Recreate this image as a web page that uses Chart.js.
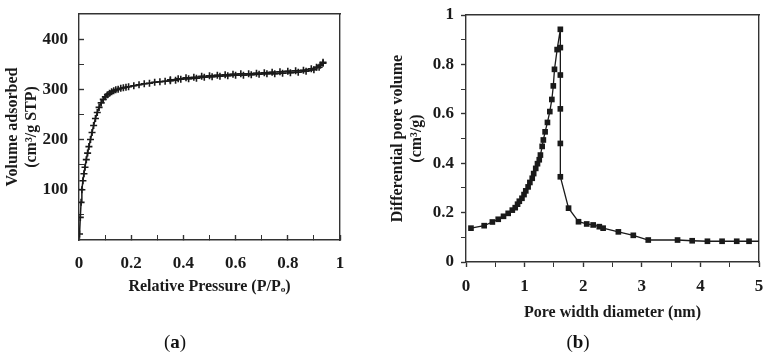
<!DOCTYPE html>
<html>
<head>
<meta charset="utf-8">
<script src="https://cdn.jsdelivr.net/npm/chart.js@4"></script>
<style>
  body { margin: 0; background: #fff; }
  #wrap { position: relative; width: 770px; height: 358px; overflow: hidden; }
  canvas { position: absolute; top: 0; }
  #chartA { left: 0; }
  #chartB { left: 385px; }
  .tag { position: absolute; top: 342px; transform: translate(-50%, -50%);
         font-family: 'Liberation Serif', serif; font-size: 19px; color: #111; }
</style>
</head>
<body>
<div id="wrap">
  <canvas id="chartA" width="385" height="358"></canvas>
  <canvas id="chartB" width="385" height="358"></canvas>
  <div class="tag" style="left:175px">(<b>a</b>)</div>
  <div class="tag" style="left:578px">(<b>b</b>)</div>
</div>
<script>
// (a) nitrogen isotherm
const pressureAds = [0.002, 0.005, 0.008, 0.011, 0.015, 0.019, 0.023, 0.028, 0.033, 0.038, 0.044, 0.050,
  0.056, 0.063, 0.070, 0.077, 0.085, 0.093, 0.101, 0.109, 0.117, 0.125, 0.133, 0.141, 0.150, 0.160,
  0.170, 0.180, 0.190, 0.21, 0.23, 0.25, 0.27, 0.29, 0.31, 0.33, 0.35, 0.37, 0.39, 0.42, 0.45, 0.48,
  0.51, 0.54, 0.57, 0.60, 0.63, 0.66, 0.69, 0.72, 0.75, 0.78, 0.81, 0.84, 0.87, 0.90, 0.92, 0.935];
const volumeAds = [12, 45, 75, 100, 118, 132, 145, 160, 173, 186, 200, 214,
  228, 242, 254, 264, 273, 280, 285, 289, 292, 295, 297, 299, 300, 302,
  303, 304, 305, 307, 309, 311, 312, 314, 315, 316, 317, 318, 320, 321, 322, 324,
  325, 326, 327, 328, 328, 329, 330, 331, 331, 332, 333, 334, 336, 339, 344, 352];
const pressureDes = [0.935, 0.925, 0.91, 0.89, 0.86, 0.83, 0.80, 0.77, 0.74, 0.71, 0.68, 0.65,
  0.62, 0.59, 0.56, 0.53, 0.50, 0.47, 0.44, 0.41, 0.38, 0.35];
const volumeDes = [354, 348, 344, 341, 338, 337, 336, 335, 334, 333, 332, 331,
  331, 330, 329, 328, 327, 326, 324, 323, 321, 319];
const pressureTicks = [0, 0.1, 0.2, 0.3, 0.4, 0.5, 0.6, 0.7, 0.8, 0.9, 1];
const pressureLabels = ['0', '', '0.2', '', '0.4', '', '0.6', '', '0.8', '', '1'];
const volumeTicks = [50, 100, 150, 200, 250, 300, 350, 400];
const volumeLabels = ['', '100', '', '200', '', '300', '', '400'];

// (b) pore size distribution
const poreWidth = [0.085, 0.31, 0.45, 0.55, 0.64, 0.72, 0.79, 0.84, 0.88, 0.91, 0.955, 0.99, 1.02,
  1.06, 1.09, 1.13, 1.155, 1.19, 1.22, 1.25, 1.27, 1.30, 1.32, 1.35, 1.39, 1.43, 1.465, 1.49, 1.51,
  1.555, 1.61, 1.61, 1.61, 1.61, 1.61, 1.61, 1.75, 1.92, 2.06, 2.17, 2.275, 2.34, 2.60, 2.855,
  3.11, 3.61, 3.86, 4.12, 4.37, 4.62, 4.83, 5.1];
const poreVolume = [0.137, 0.147, 0.162, 0.173, 0.185, 0.197, 0.21, 0.22, 0.234, 0.246, 0.258, 0.273, 0.288,
  0.304, 0.322, 0.339, 0.358, 0.379, 0.398, 0.414, 0.433, 0.468, 0.494, 0.527, 0.565, 0.609, 0.658, 0.713, 0.78,
  0.86, 0.942, 0.868, 0.757, 0.62, 0.48, 0.345, 0.218, 0.163, 0.154, 0.15, 0.143, 0.137, 0.122, 0.108,
  0.089, 0.089, 0.086, 0.084, 0.084, 0.084, 0.084, 0.084];
const widthTicks = [0, 0.5, 1, 1.5, 2, 2.5, 3, 3.5, 4, 4.5, 5];
const widthLabels = ['0', '', '1', '', '2', '', '3', '', '4', '', '5'];
const dvTicks = [0, 0.1, 0.2, 0.3, 0.4, 0.5, 0.6, 0.7, 0.8, 0.9, 1];
const dvLabels = ['0', '', '0.2', '', '0.4', '', '0.6', '', '0.8', '', '1'];

const serif = "'Liberation Serif', 'Times New Roman', serif";
const ink = '#1a1a1a';
const frameColor = '#333';

const tickFont = { family: serif, size: 17, weight: 'bold' };
const titleFont = { family: serif, size: 16, weight: 'bold' };

function pts(xs, ys) {
    return xs.map((x, i) => ({ x: x, y: ys[i] }));
}

// bottom / left axis with fixed tick positions; tick marks in or out
function axis(horizontal, min, max, values, labels, size, tickLen, pad, title) {
    return {
        type: 'linear',
        position: horizontal ? 'bottom' : 'left',
        min: min,
        max: max,
        afterBuildTicks: s => { s.ticks = values.map(v => ({ value: v })); },
        afterFit: s => {
            if (horizontal) { s.height = size; s.paddingLeft = 0; s.paddingRight = 0; }
            else { s.width = size; s.paddingTop = 0; s.paddingBottom = 0; }
        },
        grid: {
            display: true,
            drawOnChartArea: false,
            drawTicks: true,
            tickLength: tickLen,
            tickColor: frameColor,
            tickWidth: ctx => (labels[ctx.index] ? 1.4 : 1)
        },
        border: { display: true, color: frameColor, width: 1.4 },
        ticks: {
            padding: pad - tickLen,
            maxRotation: 0,
            autoSkip: false,
            color: ink,
            font: tickFont,
            callback: (v, i) => labels[i]
        },
        title: {
            display: true,
            text: title,
            color: ink,
            font: titleFont,
            padding: horizontal ? { top: 0, bottom: 2 } : { top: 3, bottom: 0 }
        }
    };
}

// top / right edges of the box
function edge(position) {
    const horizontal = position === 'top';
    return {
        type: 'linear',
        position: position,
        afterFit: s => {
            if (horizontal) { s.height = 0; s.paddingLeft = 0; s.paddingRight = 0; }
            else { s.width = 0; s.paddingTop = 0; s.paddingBottom = 0; }
        },
        grid: { display: false },
        ticks: { display: false },
        border: { display: true, color: frameColor, width: 1.4 }
    };
}

new Chart(document.getElementById('chartA'), {
    type: 'line',
    data: {
        datasets: [
            {
                data: pts(pressureAds, volumeAds),
                xAxisID: 'x',
                yAxisID: 'y',
                borderColor: ink,
                borderWidth: 1.5,
                pointStyle: 'cross',
                pointRadius: 3.5,
                pointBorderWidth: 1.6,
                pointBorderColor: ink,
                tension: 0
            },
            {
                data: pts(pressureDes, volumeDes),
                xAxisID: 'x',
                yAxisID: 'y',
                borderColor: ink,
                borderWidth: 1.3,
                pointStyle: 'cross',
                pointRadius: 3.5,
                pointBorderWidth: 1.6,
                pointBorderColor: ink,
                tension: 0
            }
        ]
    },
    options: {
        responsive: false,
        animation: false,
        layout: { padding: { left: 0, top: 14, right: 45, bottom: 60 } },
        plugins: {
            legend: { display: false },
            tooltip: { enabled: false }
        },
        scales: {
            x: axis(true, 0, 1, pressureTicks, pressureLabels, 58, -5, 13, 'Relative Pressure (P/Pₒ)'),
            y: axis(false, 0, 450, volumeTicks, volumeLabels, 79, -5, 11, ['Volume adsorbed', '(cm³/g STP)']),
            x2: edge('top'),
            y2: edge('right')
        }
    }
});

new Chart(document.getElementById('chartB'), {
    type: 'line',
    data: {
        datasets: [
            {
                data: pts(poreWidth, poreVolume),
                xAxisID: 'x',
                yAxisID: 'y',
                borderColor: ink,
                borderWidth: 1.3,
                pointStyle: 'rect',
                pointRadius: 4,
                pointBackgroundColor: ink,
                pointBorderColor: ink,
                pointBorderWidth: 0,
                tension: 0
            }
        ]
    },
    options: {
        responsive: false,
        animation: false,
        layout: { padding: { left: 0, top: 15, right: 11, bottom: 34 } },
        plugins: {
            legend: { display: false },
            tooltip: { enabled: false }
        },
        scales: {
            x: axis(true, 0, 5, widthTicks, widthLabels, 62, 5, 14, 'Pore width diameter (nm)'),
            y: axis(false, 0, 1, dvTicks, dvLabels, 81, 5, 12, ['Differential pore volume', '(cm³/g)']),
            x2: edge('top'),
            y2: edge('right')
        }
    }
});
</script>
</body>
</html>
